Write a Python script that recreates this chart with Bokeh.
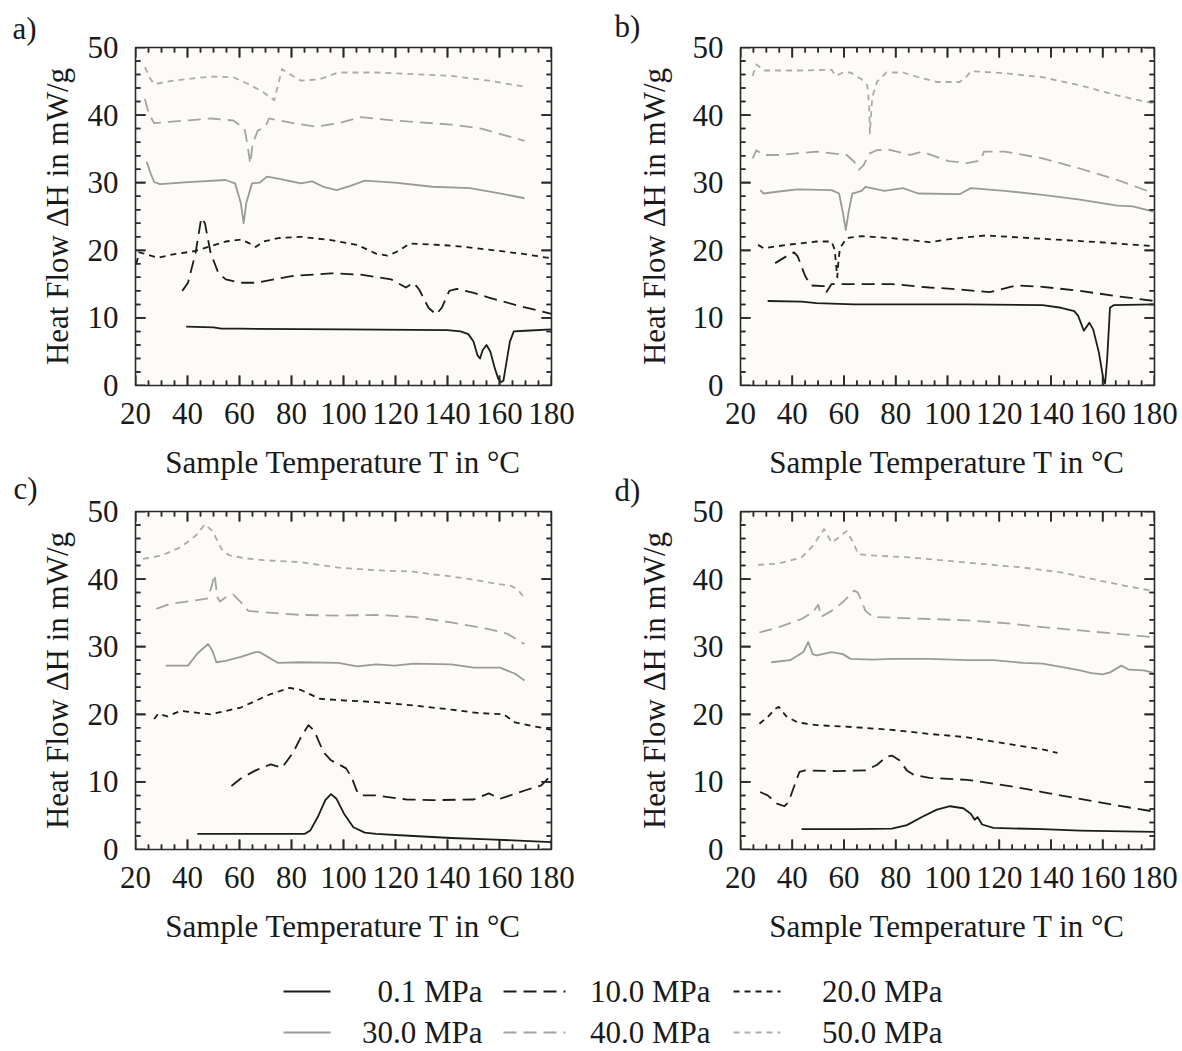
import math
from bokeh.plotting import figure
from bokeh.layouts import column, row
from bokeh.models import Range1d, FixedTicker
from bokeh.embed import file_html
from bokeh.resources import INLINE
from bokeh.core.properties import value

FONT = "Liberation Serif"
FS = "31px"

pressures = ["0.1 MPa", "10.0 MPa", "20.0 MPa", "30.0 MPa", "40.0 MPa", "50.0 MPa"]
colors = ["#1c1c1c", "#1c1c1c", "#1c1c1c", "#9a9a9a", "#a4a4a4", "#ababab"]
dashes = ["solid", "13 7", "6 5", "solid", "13 7", "6 5"]
panel_tags = ["a)", "b)", "c)", "d)"]

x_major = [20, 40, 60, 80, 100, 120, 140, 160, 180]
x_minor = [t for t in range(20, 181, 5) if t % 20 != 0]
y_major = [0, 10, 20, 30, 40, 50]
y_minor = [v for v in range(0, 51, 2) if v % 10 != 0]

# ---------------- panel a ----------------
a01_T = [39.5, 50, 53, 60, 100, 140, 145, 148, 150, 151.5, 152.5, 153.5, 155, 156.5, 158, 159.5, 160.5, 161.5, 162.5, 164, 165.5, 170, 180]
a01_H = [8.7, 8.6, 8.4, 8.4, 8.3, 8.2, 8.0, 7.6, 6.5, 4.5, 4.0, 5.2, 6.0, 5.0, 2.8, 1.0, 0.5, 0.7, 3.0, 6.5, 8.0, 8.1, 8.3]
a10_T = [38, 40.2, 43.1, 45.3, 46.7, 48.9, 51.8, 54.7, 60.5, 66.2, 80.7, 95.2, 106.7, 118.3, 124, 127, 129.1, 132.7, 135.6, 137.8, 140.7, 143.6, 150.1, 155.9, 167.4, 180]
a10_H = [14.0, 15.2, 19.6, 24.8, 24.0, 19.6, 16.7, 15.7, 15.2, 15.2, 16.2, 16.6, 16.4, 15.7, 14.5, 15.2, 14.2, 11.5, 10.5, 11.5, 14.0, 14.3, 13.7, 13.0, 11.8, 10.6]
a20_T = [20.3, 21.5, 28.7, 34.5, 43.1, 48.9, 54.7, 60.5, 63.4, 66.2, 69.1, 74.9, 83.6, 95.2, 105.3, 112.5, 116.9, 121.2, 125.5, 141.4, 155.9, 170.3, 180]
a20_H = [18.0, 19.7, 18.9, 19.4, 19.9, 20.6, 21.3, 21.6, 21.1, 20.5, 21.3, 21.8, 22.0, 21.5, 20.8, 19.5, 19.2, 19.9, 21.0, 20.7, 20.1, 19.4, 18.8]
a30_T = [24.3, 25.8, 27.2, 29.4, 40.2, 54.7, 58.3, 60.5, 61.6, 62.6, 64.8, 67.7, 70.6, 74.9, 83.6, 87.9, 92.3, 97.3, 102.4, 108.2, 119.7, 134.2, 148.6, 159, 169.6]
a30_H = [33.1, 31.4, 30.1, 29.8, 30.1, 30.4, 29.9, 27.0, 24.0, 27.0, 29.9, 30.0, 30.9, 30.6, 29.9, 30.2, 29.4, 28.9, 29.5, 30.3, 30.0, 29.4, 29.2, 28.5, 27.7]
a40_T = [23.6, 25.1, 27.2, 33, 48.9, 57.6, 61.9, 63, 64.1, 65.1, 67, 69.9, 71.3, 82.2, 89.4, 98, 106.7, 119.7, 141.4, 153, 169.6]
a40_H = [42.4, 40.2, 38.8, 39.0, 39.5, 39.2, 38.0, 35.8, 32.8, 35.8, 37.7, 38.2, 39.5, 38.7, 38.3, 38.8, 39.7, 39.2, 38.6, 38.0, 36.2]
a50_T = [23.6, 25.8, 27.2, 34.5, 48.9, 57.6, 63.4, 69.1, 73.4, 74.9, 76.4, 79.2, 83.6, 90.8, 98, 112.5, 141.4, 155.9, 169.6]
a50_H = [47.1, 45.3, 44.6, 45.1, 45.7, 45.6, 44.6, 43.4, 42.2, 44.6, 46.8, 46.1, 45.1, 45.3, 46.3, 46.3, 45.8, 45.1, 44.2]

# ---------------- panel b ----------------
b01_T = [30.5, 43.6, 49.4, 63.9, 107.6, 136.7, 143.9, 149, 150.5, 152.7, 154.8, 156.3, 158.5, 160.2, 160.9, 161.7, 162.8, 164.3, 180]
b01_H = [12.5, 12.4, 12.2, 12.0, 12.0, 11.9, 11.5, 11.0, 10.3, 8.1, 9.3, 8.3, 4.9, 1.0, 0.3, 3.9, 11.5, 11.9, 12.0]
b10_T = [33.4, 37.7, 40.7, 42.1, 45, 47.2, 52.3, 53, 55.2, 63.9, 78.5, 93, 101.7, 116.3, 126.5, 136.7, 151.2, 165.7, 180]
b10_H = [18.1, 19.1, 19.7, 19.1, 16.2, 14.8, 14.7, 13.7, 15.0, 15.0, 15.0, 14.5, 14.3, 13.8, 14.8, 14.6, 14.0, 13.2, 12.5]
b20_T = [26.8, 29, 37.7, 49.4, 55.2, 56.4, 57.4, 57.8, 58.4, 61, 66.8, 78.5, 93, 101.7, 114.8, 136.7, 158.5, 180]
b20_H = [20.8, 20.3, 20.8, 21.3, 21.3, 20.1, 16.0, 18.1, 20.3, 21.8, 22.1, 21.8, 21.2, 21.7, 22.2, 21.7, 21.2, 20.6]
b30_T = [27.6, 29, 34.8, 42.1, 55.2, 58.1, 59.6, 60.7, 61.7, 63.2, 66.8, 68.3, 75.6, 82.8, 88.7, 104.7, 109, 122.1, 136.7, 151.2, 165.7, 171.6, 180]
b30_H = [28.9, 28.4, 28.7, 29.0, 28.9, 28.4, 25.5, 23.0, 25.5, 28.4, 28.8, 29.4, 28.8, 29.2, 28.4, 28.3, 29.2, 28.8, 28.2, 27.5, 26.6, 26.5, 25.7]
b40_T = [24.7, 26.1, 29, 34.8, 49.4, 61, 63.9, 65.7, 67.6, 69.7, 72.7, 77, 85.7, 90.1, 93, 100.3, 107.6, 112.7, 114.1, 122.1, 136.7, 151.2, 165.7, 180]
b40_H = [33.6, 34.8, 34.1, 34.1, 34.6, 34.1, 33.1, 31.9, 32.6, 34.3, 34.8, 34.9, 34.1, 34.6, 34.2, 33.2, 32.9, 33.3, 34.6, 34.6, 33.6, 32.1, 30.4, 28.4]
b50_T = [24.7, 26.1, 29, 42.1, 55.2, 56.7, 59.6, 62.5, 66.8, 69, 69.7, 70, 70.9, 72.7, 76.3, 82.8, 88.7, 95.9, 104.7, 107.6, 109, 122.1, 136.7, 151.2, 165.7, 180]
b50_H = [45.8, 47.5, 46.6, 46.6, 46.7, 45.8, 46.3, 46.3, 45.3, 44.4, 41.7, 37.3, 42.6, 44.9, 46.3, 46.3, 45.6, 44.9, 44.9, 45.8, 46.5, 46.2, 45.6, 44.4, 42.9, 41.7]

# ---------------- panel c ----------------
c01_T = [43.8, 69.1, 85, 87.2, 90.1, 93, 95.2, 97.3, 100.2, 103.8, 108.2, 112.5, 127, 141.4, 155.9, 180]
c01_H = [2.3, 2.3, 2.3, 2.8, 4.8, 7.3, 8.2, 7.5, 5.3, 3.3, 2.5, 2.3, 2.0, 1.7, 1.5, 1.1]
c10_T = [56.9, 60.5, 66.2, 72, 76.4, 80.7, 83.6, 86.5, 88.7, 92.3, 95.2, 101, 103.1, 105.3, 106.7, 112.5, 124.1, 134.2, 150.1, 155.9, 160.2, 170.3, 176.1, 180]
c10_H = [9.4, 10.5, 11.7, 12.6, 12.1, 14.4, 16.6, 18.4, 17.6, 14.4, 13.2, 12.0, 10.7, 8.5, 8.0, 8.0, 7.4, 7.3, 7.4, 8.3, 7.5, 8.8, 9.5, 11.0]
c20_T = [27.2, 28.7, 32.3, 37.3, 48.9, 60.5, 72, 79.3, 83.6, 90.8, 98, 112.5, 127, 141.4, 151.5, 161.6, 166, 180]
c20_H = [19.3, 20.1, 19.7, 20.5, 20.0, 21.0, 23.0, 23.9, 23.6, 22.3, 22.1, 21.8, 21.3, 20.7, 20.2, 20.0, 18.8, 17.7]
c30_T = [31.6, 40.2, 43.8, 47.9, 49.6, 51.1, 54.7, 60.5, 66.2, 67.7, 74.9, 83.6, 98, 105.3, 112.5, 119.7, 127, 141.4, 150.1, 160.2, 166, 169.6]
c30_H = [27.2, 27.2, 29.0, 30.4, 29.4, 27.7, 27.9, 28.5, 29.2, 29.2, 27.6, 27.7, 27.6, 27.1, 27.4, 27.2, 27.5, 27.4, 26.9, 26.9, 26.0, 25.0]
c40_T = [28, 33, 40.2, 47.5, 49.2, 50.4, 51.5, 52.5, 54.7, 57.6, 60.5, 63.4, 69.1, 83.6, 98, 112.5, 127, 141.4, 155.9, 163.1, 169.6]
c40_H = [35.6, 36.3, 36.7, 37.1, 38.8, 40.7, 37.3, 36.7, 37.3, 37.7, 36.6, 35.3, 35.1, 34.7, 34.6, 34.7, 34.4, 33.6, 32.6, 31.9, 30.4]
c50_T = [22.9, 30.1, 37.3, 43.1, 46.7, 49.6, 53.2, 56.1, 61.9, 69.1, 83.6, 98, 112.5, 127, 134.2, 141.4, 150.1, 155.9, 164.5, 167.4, 169.6]
c50_H = [43.0, 43.5, 44.7, 46.4, 48.1, 47.1, 44.4, 43.5, 43.1, 42.8, 42.5, 41.7, 41.3, 41.1, 40.7, 40.4, 39.9, 39.5, 39.0, 38.3, 37.2]

# ---------------- panel d ----------------
d01_T = [43.6, 63.9, 78.5, 84.3, 90.1, 95.9, 101, 106.1, 109, 110.5, 111.6, 113.4, 117.7, 136.7, 151.2, 180]
d01_H = [3.0, 3.0, 3.1, 3.6, 4.8, 5.9, 6.4, 6.1, 5.3, 4.4, 4.8, 3.7, 3.2, 3.0, 2.8, 2.6]
d10_T = [27.6, 30.5, 34.1, 37, 38.5, 42.8, 45, 56.7, 68.3, 72.7, 76.3, 78.5, 81.4, 84.3, 87.2, 93, 107.6, 122.1, 136.7, 151.2, 165.7, 180]
d10_H = [8.5, 8.0, 6.8, 6.4, 7.0, 11.5, 11.7, 11.6, 11.7, 12.5, 13.7, 13.9, 13.2, 11.7, 11.0, 10.6, 10.3, 9.5, 8.5, 7.5, 6.5, 5.6]
d20_T = [27.3, 30.5, 33.4, 34.8, 37.7, 42.1, 49.4, 63.9, 78.5, 93, 107.6, 122.1, 136.7, 142.5]
d20_H = [18.6, 19.6, 20.8, 21.1, 19.7, 18.8, 18.4, 18.1, 17.7, 17.1, 16.6, 15.7, 14.8, 14.3]
d30_T = [31.9, 39.2, 44.3, 46.2, 47.9, 49.4, 55.2, 59.6, 62.5, 71.2, 78.5, 93, 107.6, 117.7, 129.4, 136.7, 143.9, 151.2, 155.6, 160, 162.8, 167.2, 170.1, 175.9, 180]
d30_H = [27.7, 28.0, 29.2, 30.7, 28.9, 28.7, 29.2, 28.9, 28.2, 28.1, 28.2, 28.2, 28.0, 28.0, 27.6, 27.5, 27.0, 26.5, 26.1, 25.9, 26.2, 27.2, 26.6, 26.5, 26.1]
d40_T = [27.3, 34.8, 43.6, 47.9, 50.1, 51.1, 55.2, 59.6, 63.9, 65.4, 68.3, 71.2, 78.5, 93, 107.6, 122.1, 136.7, 151.2, 165.7, 180]
d40_H = [32.1, 32.9, 34.1, 35.1, 36.2, 34.4, 35.3, 36.6, 38.3, 38.0, 35.3, 34.4, 34.3, 34.1, 33.9, 33.5, 32.9, 32.4, 31.9, 31.4]
d50_T = [26.8, 34.8, 43.6, 47.9, 52.3, 55.2, 58.1, 61, 63.9, 65.4, 71.2, 85.7, 100.3, 114.8, 129.4, 143.9, 158.5, 168.7, 180]
d50_H = [42.1, 42.3, 43.2, 44.9, 47.4, 45.4, 46.2, 47.1, 45.2, 43.7, 43.5, 43.2, 42.7, 42.2, 41.7, 41.0, 39.8, 39.0, 38.2]

panels = {
    "a": [(a01_T, a01_H), (a10_T, a10_H), (a20_T, a20_H), (a30_T, a30_H), (a40_T, a40_H), (a50_T, a50_H)],
    "b": [(b01_T, b01_H), (b10_T, b10_H), (b20_T, b20_H), (b30_T, b30_H), (b40_T, b40_H), (b50_T, b50_H)],
    "c": [(c01_T, c01_H), (c10_T, c10_H), (c20_T, c20_H), (c30_T, c30_H), (c40_T, c40_H), (c50_T, c50_H)],
    "d": [(d01_T, d01_H), (d10_T, d10_H), (d20_T, d20_H), (d30_T, d30_H), (d40_T, d40_H), (d50_T, d50_H)],
}

X_LABEL = "Sample Temperature T in \u00b0C"
Y_LABEL = "Heat Flow \u0394H in mW/g"
AX_COLOR = "#2a2a2a"
TXT_COLOR = "#1a1a1a"
X0, X1, Y0, Y1 = 20, 180, 0, 50
FRAME_H = 338
NAN = float("nan")


def style_axis(ax):
    ax.axis_line_color = None
    ax.major_tick_line_color = None
    ax.minor_tick_line_color = None
    ax.major_tick_in = 0
    ax.major_tick_out = 0
    ax.minor_tick_in = 0
    ax.minor_tick_out = 0
    ax.major_label_text_font = FONT
    ax.major_label_text_color = TXT_COLOR
    ax.major_label_text_font_size = FS
    ax.axis_label_text_font = FONT
    ax.axis_label_text_font_size = FS
    ax.axis_label_text_font_style = "normal"
    ax.axis_label_text_color = TXT_COLOR


def add_ticks(p, frame_w, xs, ys, length, width):
    # inward ticks on all four frame sides, drawn as one broken line (NaN gaps)
    dx = length * (X1 - X0) / frame_w
    dy = length * (Y1 - Y0) / FRAME_H
    lx, ly = [], []
    for x in xs:
        lx += [x, x, NAN, x, x, NAN]
        ly += [Y0, Y0 + dy, NAN, Y1, Y1 - dy, NAN]
    for y in ys:
        lx += [X0, X0 + dx, NAN, X1, X1 - dx, NAN]
        ly += [y, y, NAN, y, y, NAN]
    p.line(lx, ly, line_color=AX_COLOR, line_width=width)
    # the same ticks as dash markers centred on the frame edge (outer half is clipped by the frame)
    n, m = len(xs), len(ys)
    mk = dict(marker="dash", size=2 * length, line_color=AX_COLOR, line_width=width, fill_color=None)
    p.scatter(x=xs, y=[Y0] * n, angle=math.pi / 2, **mk)
    p.scatter(x=xs, y=[Y1] * n, angle=math.pi / 2, **mk)
    p.scatter(x=[X0] * m, y=ys, angle=0, **mk)
    p.scatter(x=[X1] * m, y=ys, angle=0, **mk)


def make_panel(series, frame_w, bl, br, bt, bb):
    p = figure(width=bl + frame_w + br, height=bt + FRAME_H + bb,
               x_range=Range1d(X0, X1), y_range=Range1d(Y0, Y1),
               toolbar_location=None, output_backend="svg",
               min_border_left=bl, min_border_right=br, min_border_top=bt, min_border_bottom=bb)
    p.background_fill_color = "#fcfbf8"
    p.border_fill_color = "white"
    p.outline_line_color = AX_COLOR
    p.outline_line_width = 1.6
    p.xgrid.visible = False
    p.ygrid.visible = False
    p.xaxis.ticker = FixedTicker(ticks=x_major)
    p.yaxis.ticker = FixedTicker(ticks=y_major)
    p.xaxis.axis_label = X_LABEL
    for ax in p.xaxis:
        style_axis(ax)
        ax.major_label_standoff = 17
        ax.axis_label_standoff = 18
    for ax in p.yaxis:
        style_axis(ax)
        ax.major_label_standoff = 17
    for (t, h), c, d in zip(series, colors, dashes):
        p.line(t, h, line_color=c, line_dash=d, line_width=1.8, line_join="round")
    add_ticks(p, frame_w, x_minor, y_minor, 5, 1.5)
    add_ticks(p, frame_w, x_major, y_major, 10, 1.7)
    return p


def make_strip(width, tags, tag_x, tag_y, ylab_x, ylab_y):
    s = figure(width=width, height=950, x_range=Range1d(0, width), y_range=Range1d(950, 0),
               toolbar_location=None, output_backend="svg", min_border=0,
               x_axis_location=None, y_axis_location=None)
    s.outline_line_color = None
    s.xgrid.visible = False
    s.ygrid.visible = False
    s.background_fill_color = "white"
    s.border_fill_color = "white"
    s.text(x=tag_x, y=tag_y, text=tags, text_align="left", text_baseline="middle",
           text_font=value(FONT), text_font_size=value(FS), text_color=TXT_COLOR)
    s.text(x=ylab_x, y=ylab_y, text=[Y_LABEL] * len(ylab_x), angle=math.pi / 2,
           text_align="center", text_baseline="middle",
           text_font=value(FONT), text_font_size=value(FS), text_color=TXT_COLOR)
    return s


# left column: strip 0..80, panels 80..590 ; right column: strip 590..688, panels 688..1182
pa = make_panel(panels["a"], 416, 55, 39, 47, 97)
pc = make_panel(panels["c"], 416, 55, 39, 29, 101)
pb = make_panel(panels["b"], 414, 52, 28, 47, 97)
pd = make_panel(panels["d"], 414, 52, 28, 29, 101)

strip_left = make_strip(80, [panel_tags[0], panel_tags[2]], [12, 13], [28, 488], [57, 57], [216, 680])
strip_mid = make_strip(98, [panel_tags[1], panel_tags[3]], [24, 24], [26, 490], [64, 64], [216, 680])

# ---------------- legend ----------------
leg = figure(width=1182, height=101, x_range=Range1d(0, 1182), y_range=Range1d(101, 0),
             toolbar_location=None, output_backend="svg", min_border=0,
             x_axis_location=None, y_axis_location=None)
leg.outline_line_color = None
leg.xgrid.visible = False
leg.ygrid.visible = False
leg.background_fill_color = "white"
leg.border_fill_color = "white"
col_line0 = [283, 503, 733]
col_line1 = [330, 565, 780]
col_text = [482, 710, 942]
row_y = [41, 82]
for i, name in enumerate(pressures):
    r, cidx = divmod(i, 3)
    leg.line([col_line0[cidx], col_line1[cidx]], [row_y[r], row_y[r]], line_color=colors[i],
             line_dash=dashes[i], line_width=1.8)
    leg.text(x=[col_text[cidx]], y=[row_y[r]], text=[name], text_align="right", text_baseline="middle",
             text_font=value(FONT), text_font_size=value(FS), text_color=TXT_COLOR)

layout = column(row(strip_left, column(pa, pc), strip_mid, column(pb, pd)), leg)
open("out.html", "w").write(file_html(layout, INLINE))
